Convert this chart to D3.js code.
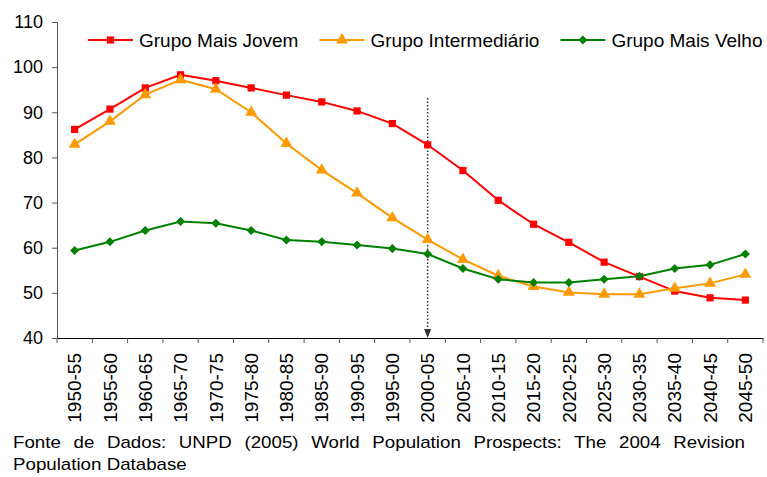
<!DOCTYPE html>
<html>
<head>
<meta charset="utf-8">
<script src="https://cdn.jsdelivr.net/npm/d3@7.9.0/dist/d3.min.js"></script>
<style>
  body { margin: 0; background: #fff; }
  text { font-family: "Liberation Sans", Arial, sans-serif; fill: #000; }
</style>
</head>
<body>
<div id="chart"></div>
<script>
// categories (5-year periods)
const categories = ["1950-55","1955-60","1960-65","1965-70","1970-75","1975-80","1980-85","1985-90","1990-95","1995-00",
                    "2000-05","2005-10","2010-15","2015-20","2020-25","2025-30","2030-35","2035-40","2040-45","2045-50"];

// series values
const jovem         = [86.2, 90.7, 95.4, 98.3, 97.0, 95.4, 93.8, 92.3, 90.3, 87.5, 82.8, 77.1, 70.5, 65.2, 61.2, 56.8, 53.6, 50.4, 48.9, 48.4];
const intermediario = [82.9, 88.0, 93.9, 97.2, 95.1, 90.0, 83.1, 77.2, 72.1, 66.6, 61.8, 57.4, 53.8, 51.4, 50.1, 49.7, 49.7, 51.0, 52.1, 54.1];
const velho         = [59.4, 61.3, 63.8, 65.8, 65.4, 63.8, 61.7, 61.3, 60.6, 59.8, 58.6, 55.4, 53.0, 52.3, 52.3, 53.0, 53.7, 55.4, 56.2, 58.6];

const yTicks = [40, 50, 60, 70, 80, 90, 100, 110];
const markerPeriod = "2000-05";
const footerLine1 = "Fonte de Dados: UNPD (2005) World Population Prospects: The 2004 Revision";
const footerLine2 = "Population Database";

const series = [
  { name: "Grupo Mais Jovem",     values: jovem,         color: "#FF0000", symbol: d3.symbolSquare,   size: 52 },
  { name: "Grupo Intermediário",  values: intermediario, color: "#FF9900", symbol: d3.symbolTriangle, size: 62 },
  { name: "Grupo Mais Velho",     values: velho,         color: "#008000", symbol: d3.symbolDiamond2, size: 52 }
];

// 1) dimensions
const W = 767, H = 477;
const plot = { left: 57, right: 763, top: 22, bottom: 338 };

const svg = d3.select("#chart")
  .append("svg")
    .attr("width", W)
    .attr("height", H);

// 2) scales
const x = d3.scaleBand()
  .domain(categories)
  .range([plot.left, plot.right]);

const y = d3.scaleLinear()
  .domain([40, 110])
  .range([plot.bottom, plot.top]);

const cx = d => x(d) + x.bandwidth() / 2;

// 3) y axis
const yAxis = svg.append("g")
  .attr("transform", `translate(${plot.left},0)`)
  .call(d3.axisLeft(y).tickValues(yTicks).tickSize(5).tickPadding(9));
yAxis.select(".domain").attr("stroke", "#555");
yAxis.selectAll(".tick line").attr("stroke", "#555");
yAxis.selectAll("text").style("font-size", "18px").attr("fill", "#000");

// 4) x axis: labels at band centres, tick marks at band edges
const xAxis = svg.append("g")
  .attr("transform", `translate(0,${plot.bottom})`)
  .call(d3.axisBottom(x).tickSize(0).tickSizeOuter(0));
xAxis.select(".domain").attr("stroke", "#000");
xAxis.selectAll("text")
  .attr("transform", "rotate(-90)")
  .attr("x", -15)
  .attr("y", 0)
  .attr("dy", "0.35em")
  .style("text-anchor", "end")
  .style("font-size", "19px")
  .attr("fill", "#000");

const edges = categories.map(d => x(d)).concat([x.range()[1]]);
xAxis.selectAll(".edge-tick")
  .data(edges)
  .join("line")
    .attr("class", "edge-tick")
    .attr("x1", d => d).attr("x2", d => d)
    .attr("y1", 0).attr("y2", 5)
    .attr("stroke", "#555");

// 5) dotted marker line at 2000-05 with arrow
const mx = cx(markerPeriod);
svg.append("line")
  .attr("x1", mx).attr("x2", mx)
  .attr("y1", 98).attr("y2", plot.bottom - 6)
  .attr("stroke", "#333")
  .attr("stroke-width", 1.5)
  .attr("stroke-dasharray", "1.5,2");
svg.append("path")
  .attr("d", `M${mx - 3.5},${plot.bottom - 9} L${mx + 3.5},${plot.bottom - 9} L${mx},${plot.bottom} Z`)
  .attr("fill", "#333");

// 6) lines + markers
const line = d3.line()
  .x((d, i) => cx(categories[i]))
  .y(d => y(d));

series.forEach(s => {
  svg.append("path")
    .datum(s.values)
    .attr("fill", "none")
    .attr("stroke", s.color)
    .attr("stroke-width", 2)
    .attr("d", line);

  svg.append("g")
    .selectAll("path")
    .data(s.values)
    .join("path")
      .attr("transform", (d, i) => `translate(${cx(categories[i])},${y(d)})`)
      .attr("d", d3.symbol(s.symbol, s.size))
      .attr("fill", s.color);
});

// 7) legend
const legend = svg.append("g").attr("class", "legend");
let lx = 88;
const ly = 40;
series.forEach(s => {
  const g = legend.append("g");
  g.append("line")
    .attr("x1", lx).attr("x2", lx + 45)
    .attr("y1", ly).attr("y2", ly)
    .attr("stroke", s.color)
    .attr("stroke-width", 2);
  g.append("path")
    .attr("transform", `translate(${lx + 22.5},${ly})`)
    .attr("d", d3.symbol(s.symbol, s.size))
    .attr("fill", s.color);
  const t = g.append("text")
    .attr("x", lx + 51)
    .attr("y", ly + 6.5)
    .style("font-size", "19px")
    .text(s.name);
  lx = lx + 51 + t.node().getComputedTextLength() + 21;
});

// 8) footer (slightly wide font, first line justified)
const stretch = 1.17;
const f1 = svg.append("text")
  .attr("transform", `translate(13,448) scale(${stretch},1)`)
  .style("font-size", "16px")
  .text(footerLine1);
const natural = f1.node().getComputedTextLength();
const spaces = footerLine1.split(" ").length - 1;
f1.attr("word-spacing", Math.max(0, ((745 - 13) / stretch - natural) / spaces));

svg.append("text")
  .attr("transform", `translate(13,470) scale(${stretch},1)`)
  .style("font-size", "16px")
  .text(footerLine2);
</script>
</body>
</html>
